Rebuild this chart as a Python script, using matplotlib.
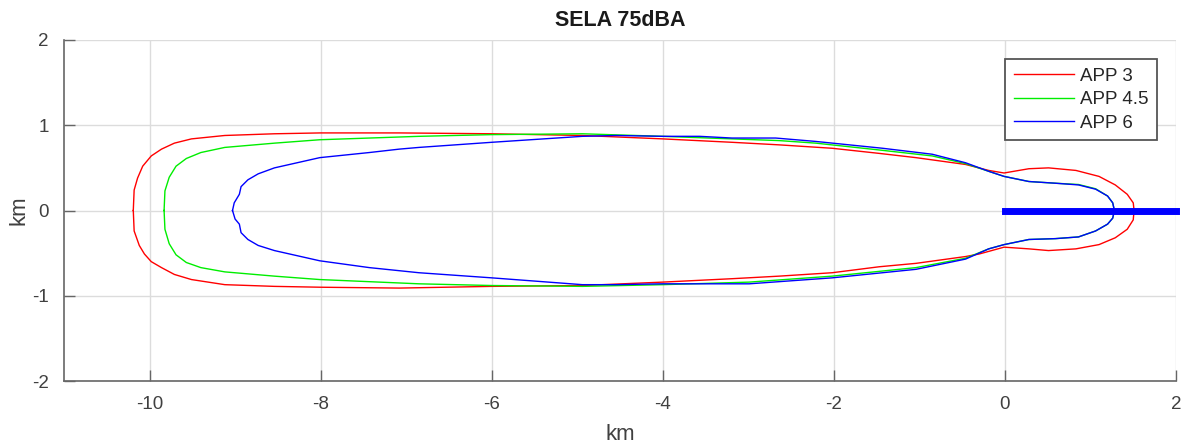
import numpy as np
import matplotlib.pyplot as plt

plt.rcParams['font.family'] = ['Liberation Sans', 'DejaVu Sans']
plt.rcParams['axes.unicode_minus'] = False

# contour points, top half from left tip to right tip, then bottom back to left (km)
app3_x = [-10.19, -10.18, -10.14, -10.08, -9.98, -9.86, -9.71, -9.51, -9.12, -8.54, -8.00,
          -7.08, -6.00, -4.94, -4.00, -3.19, -2.64, -2.02, -1.47, -1.04, -0.46, -0.19,
          -0.01, 0.28, 0.51, 0.83, 1.10, 1.29, 1.43, 1.50, 1.51,
          1.50, 1.43, 1.29, 1.10, 0.83, 0.51, 0.28, -0.01, -0.30, -0.46, -1.04, -1.47,
          -2.02, -2.64, -3.19, -4.00, -4.94, -6.00, -7.08, -8.00, -8.54, -9.12, -9.51,
          -9.71, -9.86, -9.98, -10.06, -10.12, -10.18, -10.19]
app3_y = [0.00, 0.24, 0.38, 0.52, 0.64, 0.72, 0.79, 0.84, 0.88, 0.90, 0.91,
          0.91, 0.90, 0.88, 0.84, 0.80, 0.77, 0.73, 0.67, 0.62, 0.54, 0.47,
          0.44, 0.49, 0.50, 0.47, 0.40, 0.30, 0.19, 0.09, 0.00,
          -0.11, -0.22, -0.32, -0.40, -0.45, -0.47, -0.45, -0.43, -0.51, -0.54, -0.62, -0.66,
          -0.73, -0.77, -0.80, -0.84, -0.88, -0.89, -0.91, -0.90, -0.89, -0.87, -0.81,
          -0.75, -0.67, -0.60, -0.51, -0.41, -0.24, 0.00]

app45_x = [-9.83, -9.82, -9.77, -9.69, -9.57, -9.40, -9.12, -8.54, -8.01, -6.85, -6.00,
           -4.94, -4.00, -3.19, -2.64, -2.21, -1.47, -0.85, -0.46, -0.19, -0.01, 0.28,
           0.59, 0.86, 1.06, 1.20, 1.26, 1.28,
           1.26, 1.20, 1.06, 0.86, 0.59, 0.28, -0.01, -0.19, -0.46, -1.04, -2.02, -2.99,
           -4.00, -4.94, -6.00, -6.85, -8.01, -8.54, -9.12, -9.40, -9.57, -9.69, -9.77,
           -9.82, -9.83]
app45_y = [0.00, 0.23, 0.39, 0.52, 0.61, 0.68, 0.74, 0.79, 0.83, 0.87, 0.89,
           0.90, 0.87, 0.84, 0.82, 0.79, 0.71, 0.64, 0.55, 0.46, 0.40, 0.34,
           0.32, 0.305, 0.255, 0.17, 0.09, 0.00,
           -0.09, -0.16, -0.24, -0.31, -0.33, -0.34, -0.40, -0.45, -0.56, -0.67, -0.77, -0.84,
           -0.87, -0.89, -0.88, -0.86, -0.81, -0.77, -0.72, -0.67, -0.61, -0.52, -0.39,
           -0.22, 0.00]

app6_x = [-9.03, -9.01, -8.95, -8.93, -8.85, -8.73, -8.54, -8.01, -7.43, -7.08, -6.85,
          -6.00, -4.94, -4.55, -4.00, -3.57, -3.19, -2.68, -2.21, -1.43, -0.85, -0.46,
          -0.19, -0.01, 0.28, 0.59, 0.86, 1.06, 1.20, 1.26, 1.28,
          1.26, 1.20, 1.06, 0.86, 0.59, 0.28, -0.01, -0.19, -0.46, -1.04, -2.02, -2.99,
          -4.00, -4.55, -4.94, -6.00, -6.85, -7.43, -8.01, -8.54, -8.73, -8.85, -8.93,
          -8.95, -9.00, -9.03]
app6_y = [0.00, 0.09, 0.19, 0.28, 0.36, 0.43, 0.50, 0.62, 0.68, 0.72, 0.74,
          0.80, 0.87, 0.88, 0.87, 0.87, 0.85, 0.85, 0.81, 0.73, 0.66, 0.56,
          0.46, 0.40, 0.34, 0.32, 0.30, 0.25, 0.17, 0.09, 0.00,
          -0.09, -0.16, -0.24, -0.31, -0.33, -0.34, -0.40, -0.45, -0.57, -0.69, -0.79, -0.86,
          -0.86, -0.87, -0.87, -0.79, -0.73, -0.67, -0.59, -0.47, -0.41, -0.34, -0.26,
          -0.16, -0.10, 0.00]

runway_x = [0.0, 2.0]
runway_y = [0.0, 0.0]

labels = ['APP 3', 'APP 4.5', 'APP 6']

fig = plt.figure(figsize=(11.84, 4.46), dpi=100)
ax = fig.add_axes([64 / 1184, 65 / 446, 1112 / 1184, 341 / 446])

ax.plot(app3_x, app3_y, color='#ff0000', lw=1.0, label=labels[0])
ax.plot(app45_x, app45_y, color='#00ee00', lw=1.0, label=labels[1])
ax.plot(app6_x, app6_y, color='#0000ff', lw=1.0, label=labels[2])
ax.plot(runway_x, runway_y, color='#0000ff', lw=5.0, solid_capstyle='projecting',
        clip_on=False)

ax.set_xlim(-11, 2)
ax.set_ylim(-2, 2)
ax.set_xticks([-10, -8, -6, -4, -2, 0, 2])
ax.set_yticks([-2, -1, 0, 1, 2])
ax.grid(True, color='#dcdcdc', lw=1.0)
ax.set_axisbelow(True)

for s in ['top', 'right']:
    ax.spines[s].set_visible(False)
for s in ['left', 'bottom']:
    ax.spines[s].set_color('#666666')
    ax.spines[s].set_linewidth(1.2)
ax.tick_params(direction='in', length=8, width=1.0, color='#666666',
               labelcolor='#404040', labelsize=13.5, pad=11)

ax.set_xlabel('km', fontsize=16, color='#404040', labelpad=8)
ax.set_ylabel('km', fontsize=16, color='#404040', labelpad=2)
ax.set_title('SELA 75dBA', fontsize=15.5, fontweight='bold', color='#1a1a1a', pad=10)

leg = ax.legend(loc='upper right', bbox_to_anchor=(0.983, 0.944), borderaxespad=0,
                fontsize=13.5, handlelength=3.2, handletextpad=0.35, labelspacing=0.35,
                borderpad=0.45, fancybox=False, framealpha=1, edgecolor='#555555')
leg.get_frame().set_linewidth(1.3)
for t in leg.get_texts():
    t.set_color('#262626')

fig.savefig('out.png', dpi=100)
